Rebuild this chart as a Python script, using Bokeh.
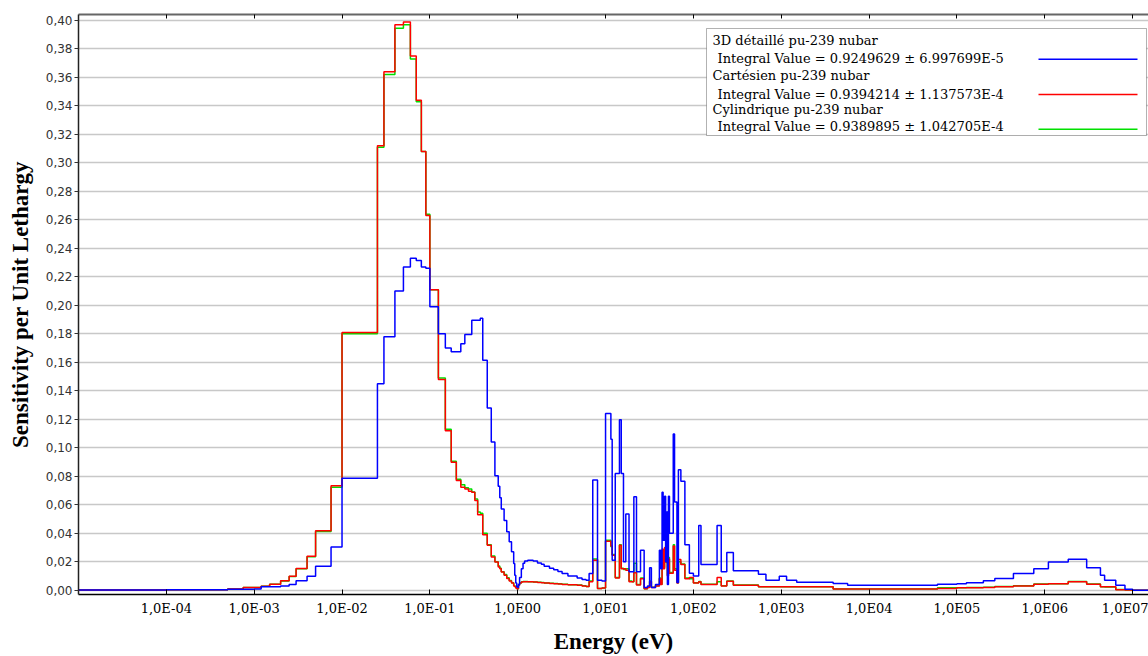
from bokeh.plotting import figure
from bokeh.models import Range1d, FixedTicker, CustomJSTickFormatter, LogAxis, BoxAnnotation, Label
from bokeh.embed import file_html
from bokeh.resources import INLINE

# ---------------- data (238-group style energy boundaries, eV) ----------------
edges = [1e-5, 1e-4, 5e-4, 7.5e-4, 1e-3, 1.2e-3, 1.5e-3, 2e-3, 2.5e-3, 3e-3,
         4e-3, 5e-3, 7.5e-3, 1e-2, 2.53e-2, 3e-2, 4e-2, 5e-2, 6e-2, 7e-2,
         8e-2, 9e-2, 0.1, 0.125, 0.15, 0.175, 0.2, 0.225, 0.25, 0.275,
         0.3, 0.325, 0.35, 0.375, 0.4, 0.45, 0.5, 0.55, 0.6, 0.625,
         0.65, 0.7, 0.75, 0.8, 0.85, 0.9, 0.925, 0.95, 0.975, 1.0,
         1.02, 1.05, 1.1, 1.15, 1.2, 1.3, 1.5, 1.68, 1.86, 2.0,
         2.3, 2.57, 2.87, 3.2, 3.73, 4.75, 5.4, 6.0, 6.5, 7.15,
         8.1, 9.1, 10.0, 11.5, 11.9, 12.9, 14.4, 15.1, 16.0, 17.0,
         18.5, 20.0, 21.0, 22.5, 25.0, 27.5, 30.0, 31.75, 33.25, 37.0,
         41.0, 42.4, 44.0, 45.2, 47.0, 48.3, 49.2, 50.6, 52.0, 53.4,
         59.0, 61.0, 65.0, 67.5, 72.0, 80.0, 90.0, 100.0, 115.0, 122.0,
         186.0, 207.5, 240.0, 285.0, 550.0, 670.0, 950.0, 1150.0, 1500.0, 3900.0,
         5700.0, 6.0e4, 1.0e5, 1.283e5, 2.0e5, 2.7e5, 4.4e5, 7.5e5, 1.1e6, 1.85e6,
         3.0e6, 4.304e6, 4.8e6, 6.434e6, 8.1873e6, 1.0e7, 2.0e7]

sens_3d = [0.0002, 0.0003, 0.0007, 0.0007, 0.0008, 0.0024, 0.0024, 0.0030, 0.0040, 0.0066,
           0.0098, 0.0168, 0.0303, 0.0786, 0.145, 0.178, 0.210, 0.227, 0.233, 0.2315,
           0.227, 0.226, 0.199, 0.180, 0.170, 0.1674, 0.1674, 0.173, 0.1795, 0.1795,
           0.1895, 0.1895, 0.1895, 0.191, 0.1615, 0.128, 0.104, 0.0804, 0.073, 0.065,
           0.057, 0.049, 0.041, 0.034, 0.027, 0.0187, 0.0105, 0.005, 0.0025, 0.002,
           0.004, 0.009, 0.015, 0.019, 0.0205, 0.021, 0.0205, 0.0192, 0.0182, 0.0168,
           0.0155, 0.0143, 0.0132, 0.0118, 0.0100, 0.0085, 0.0075, 0.0070, 0.0117, 0.0774,
           0.0070, 0.0065, 0.124, 0.106, 0.021, 0.082, 0.1196, 0.082, 0.020, 0.0536,
           0.013, 0.013, 0.0657, 0.013, 0.028, 0.002, 0.003, 0.0157, 0.002, 0.004,
           0.028, 0.015, 0.0688, 0.035, 0.066, 0.020, 0.055, 0.004, 0.066, 0.040,
           0.1096, 0.062, 0.0055, 0.0846, 0.0765, 0.032, 0.012, 0.010, 0.0455, 0.018,
           0.0455, 0.013, 0.0264, 0.0136, 0.0112, 0.0070, 0.0098, 0.0070, 0.0056, 0.0047,
           0.0035, 0.0042, 0.0045, 0.0052, 0.0066, 0.0082, 0.0117, 0.0150, 0.0199, 0.0217,
           0.0157, 0.0105, 0.0070, 0.0035, 0.0007, 0.0]

sens_cart = [0.0001, 0.0003, 0.0008, 0.0019, 0.0019, 0.0028, 0.0042, 0.0066, 0.0098, 0.0152,
             0.0238, 0.0417, 0.0734, 0.181, 0.312, 0.364, 0.397, 0.399, 0.375, 0.344,
             0.308, 0.263, 0.211, 0.148, 0.112, 0.0898, 0.077, 0.0723, 0.071, 0.0695,
             0.0688, 0.063, 0.053, 0.053, 0.039, 0.0315, 0.0233, 0.0199, 0.0163, 0.0150,
             0.0128, 0.0105, 0.0082, 0.0065, 0.0050, 0.0030, 0.0025, 0.0015, 0.0010, 0.0010,
             0.0035, 0.0050, 0.0058, 0.0060, 0.0060, 0.0059, 0.0057, 0.0055, 0.0053, 0.0050,
             0.0048, 0.0046, 0.0044, 0.0041, 0.0038, 0.0035, 0.0030, 0.0026, 0.0060, 0.0210,
             0.0012, 0.0015, 0.0343, 0.0310, 0.0245, 0.0085, 0.0315, 0.0150, 0.0150, 0.0140,
             0.0060, 0.0060, 0.0123, 0.0037, 0.0080, 0.0010, 0.0020, 0.0060, 0.0020, 0.0030,
             0.0080, 0.0040, 0.0290, 0.0150, 0.0300, 0.0200, 0.0200, 0.0100, 0.0220, 0.0120,
             0.0310, 0.0140, 0.0050, 0.0215, 0.0180, 0.0080, 0.0090, 0.0050, 0.0060, 0.0040,
             0.0090, 0.0030, 0.0063, 0.0035, 0.0024, 0.0024, 0.0024, 0.0024, 0.0024, 0.0008,
             0.0008, 0.0012, 0.0017, 0.0017, 0.0019, 0.0024, 0.0030, 0.0042, 0.0045, 0.0059,
             0.0042, 0.0024, 0.0024, 0.0004, 0.0002, 0.0]

sens_cyl = [0.0001, 0.0003, 0.0008, 0.0019, 0.0020, 0.0028, 0.0042, 0.0064, 0.0097, 0.0150,
            0.0235, 0.0412, 0.0723, 0.180, 0.311, 0.362, 0.3945, 0.397, 0.373, 0.343,
            0.308, 0.264, 0.211, 0.149, 0.113, 0.0905, 0.078, 0.074, 0.072, 0.071,
            0.069, 0.064, 0.055, 0.054, 0.040, 0.032, 0.024, 0.020, 0.017, 0.0155,
            0.013, 0.011, 0.0088, 0.0068, 0.0052, 0.0033, 0.0028, 0.0018, 0.0012, 0.0011,
            0.0036, 0.0051, 0.0059, 0.0061, 0.0061, 0.0060, 0.0058, 0.0056, 0.0054, 0.0051,
            0.0049, 0.0047, 0.0045, 0.0042, 0.0039, 0.0036, 0.0031, 0.0027, 0.0065, 0.0220,
            0.0013, 0.0016, 0.0350, 0.0305, 0.0250, 0.0090, 0.0320, 0.0155, 0.0145, 0.0150,
            0.0065, 0.0060, 0.0190, 0.0040, 0.0085, 0.0010, 0.0022, 0.0065, 0.0021, 0.0032,
            0.0085, 0.0042, 0.0280, 0.0160, 0.0290, 0.0210, 0.0195, 0.0105, 0.0230, 0.0125,
            0.0320, 0.0150, 0.0052, 0.0200, 0.0185, 0.0085, 0.0080, 0.0052, 0.0062, 0.0042,
            0.0060, 0.0031, 0.0065, 0.0036, 0.0025, 0.0025, 0.0025, 0.0024, 0.0024, 0.0009,
            0.0009, 0.0018, 0.0018, 0.0020, 0.0021, 0.0026, 0.0032, 0.0044, 0.0046, 0.0061,
            0.0043, 0.0025, 0.0023, 0.0005, 0.0002, 0.0]

series_names = ["3D détaillé pu-239 nubar", "Cartésien pu-239 nubar", "Cylindrique pu-239 nubar"]
integral_values = ["0.9249629 ± 6.997699E-5", "0.9394214 ± 1.137573E-4", "0.9389895 ± 1.042705E-4"]
series_colors = ["#0000ff", "#ff0000", "#00e000"]

x_ticks = [1e-4, 1e-3, 1e-2, 1e-1, 1e0, 1e1, 1e2, 1e3, 1e4, 1e5, 1e6, 1e7]
y_ticks = [0.00, 0.02, 0.04, 0.06, 0.08, 0.10, 0.12, 0.14, 0.16, 0.18, 0.20,
           0.22, 0.24, 0.26, 0.28, 0.30, 0.32, 0.34, 0.36, 0.38, 0.40]

# ---------------- figure ----------------
p = figure(width=1148, height=656, x_axis_type="log",
           x_range=Range1d(1e-5, 1.517e7), y_range=Range1d(-0.003, 0.4042),
           output_backend="svg", toolbar_location=None,
           min_border_left=78, min_border_right=0, min_border_top=14, min_border_bottom=60,
           background_fill_color="white", border_fill_color="white")
p.outline_line_color = None

p.xgrid.visible = False
p.ygrid.ticker = FixedTicker(ticks=y_ticks)
p.ygrid.grid_line_color = "#c8c8c8"
p.ygrid.grid_line_width = 1.5

xfmt = CustomJSTickFormatter(code="""
const e = Math.round(Math.log10(tick));
const s = e < 0 ? '-' : '';
const a = Math.abs(e);
return '1,0E' + s + (a < 10 ? '0' : '') + a;
""")
yfmt = CustomJSTickFormatter(code="return tick.toFixed(2).replace('.', ',');")

xa = p.xaxis[0]
xa.ticker = FixedTicker(ticks=x_ticks, minor_ticks=[])
xa.formatter = xfmt
xa.major_tick_in = 5
xa.major_tick_out = 0
xa.minor_tick_in = 0
xa.minor_tick_out = 0
xa.axis_line_color = "black"
xa.axis_line_width = 1.5
xa.major_tick_line_color = "black"
xa.major_label_text_font = "DejaVu Serif"
xa.major_label_text_font_size = "13px"
xa.major_label_text_color = "black"
xa.major_label_standoff = 6
xa.axis_label = "Energy (eV)"
xa.axis_label_text_font = "Liberation Serif"
xa.axis_label_text_font_style = "bold"
xa.axis_label_text_font_size = "23px"
xa.axis_label_text_color = "black"
xa.axis_label_standoff = 10

ya = p.yaxis[0]
ya.ticker = FixedTicker(ticks=y_ticks, minor_ticks=[])
ya.formatter = yfmt
ya.major_tick_in = 0
ya.major_tick_out = 4
ya.minor_tick_in = 0
ya.minor_tick_out = 0
ya.axis_line_color = "#222222"
ya.axis_line_width = 1.5
ya.major_tick_line_color = "#333333"
ya.major_label_text_font = "DejaVu Sans"
ya.major_label_text_font_size = "12px"
ya.major_label_text_color = "#333333"
ya.major_label_standoff = 2
ya.axis_label = "Sensitivity per Unit Lethargy"
ya.axis_label_text_font = "Liberation Serif"
ya.axis_label_text_font_style = "bold"
ya.axis_label_text_font_size = "23px"
ya.axis_label_text_color = "black"
ya.axis_label_standoff = 10

top = LogAxis(ticker=FixedTicker(ticks=x_ticks, minor_ticks=[]),
              formatter=CustomJSTickFormatter(code="return '';"),
              major_tick_in=4, major_tick_out=0, minor_tick_in=0, minor_tick_out=0,
              axis_line_color="#666666", axis_line_width=2,
              major_tick_line_color="black",
              major_label_text_font_size="0px", major_label_standoff=0)
p.add_layout(top, "above")

# ---------------- histogram step lines ----------------
for vals, col in [(sens_cyl, series_colors[2]), (sens_cart, series_colors[1]), (sens_3d, series_colors[0])]:
    p.step(edges, vals + [vals[-1]], mode="after", line_color=col, line_width=1.5)

# ---------------- legend (drawn as annotations, label left / swatch right) ----------------
p.add_layout(BoxAnnotation(left=628, right=1068, top=566, bottom=459,
                           left_units="screen", right_units="screen",
                           top_units="screen", bottom_units="screen",
                           fill_color="white", fill_alpha=1.0,
                           line_color="black", line_width=1, level="overlay"))
row_y = [554.3, 536.0, 518.7, 500.0, 485.3, 467.7]
swatch_y = [535.3, 500.0, 465.3]
for i in range(3):
    p.add_layout(Label(x=634, y=row_y[2 * i], x_units="screen", y_units="screen",
                       text=series_names[i], text_baseline="middle",
                       text_font="DejaVu Serif", text_font_size="13px", text_color="black",
                       level="overlay"))
    p.add_layout(Label(x=639, y=row_y[2 * i + 1], x_units="screen", y_units="screen",
                       text="Integral Value = " + integral_values[i], text_baseline="middle",
                       text_font="DejaVu Serif", text_font_size="13px", text_color="black",
                       level="overlay"))
    p.add_layout(BoxAnnotation(left=960, right=1059, top=swatch_y[i] + 0.8, bottom=swatch_y[i] - 0.8,
                               left_units="screen", right_units="screen",
                               top_units="screen", bottom_units="screen",
                               fill_color=series_colors[i], fill_alpha=1.0,
                               line_color=None, level="overlay"))

open("out.html", "w").write(file_html(p, INLINE))
